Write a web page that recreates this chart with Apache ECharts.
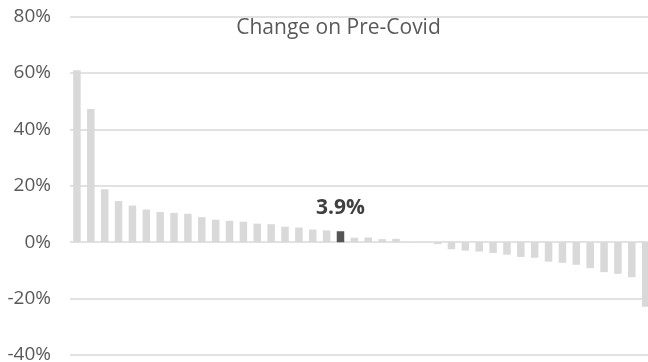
<!DOCTYPE html>
<html>
<head>
<meta charset="utf-8">
<script src="https://cdn.jsdelivr.net/npm/echarts@6/dist/echarts.min.js"></script>
<style>
  html, body { margin: 0; padding: 0; background: #ffffff; }
  #chart { width: 648px; height: 362px; }
</style>
</head>
<body>
<div id="chart"></div>
<script>
// Ranked change versus pre-Covid levels, one bar per item (in %)
const ranks = Array.from({ length: 42 }, (_, i) => String(i + 1));
const changePct = [
  61.0, 47.3, 18.8, 14.6, 13.0, 11.6, 10.7, 10.4, 10.1, 8.9,
  8.0, 7.6, 7.3, 6.6, 6.4, 5.5, 5.2, 4.5, 4.2, 3.9,
  1.6, 1.7, 1.1, 1.2, 0.1, -0.1, -0.7, -2.5, -3.0, -3.3,
  -3.8, -4.4, -5.2, -5.5, -6.9, -7.3, -8.0, -9.2, -10.6, -11.2,
  -12.4, -22.9
];
const highlightIndex = 19;
const yTicks = { min: -40, max: 80, step: 20 };
const titleText = 'Change on Pre-Covid';

const FONT = '"Open Sans", sans-serif';

const chart = echarts.init(document.getElementById('chart'), null, { renderer: 'canvas' });

const barData = changePct.map((v, i) => {
  if (i === highlightIndex) {
    return {
      value: v,
      itemStyle: { color: '#555555' },
      label: {
        show: true,
        position: 'top',
        distance: 13,
        formatter: (p) => p.value.toFixed(1) + '%',
        fontFamily: FONT,
        fontSize: 21,
        fontWeight: 'bold',
        color: '#404040'
      }
    };
  }
  return v;
});

chart.setOption({
  animation: false,
  backgroundColor: '#ffffff',
  title: {
    text: titleText,
    left: 333.5,
    textAlign: 'center',
    top: 13,
    textStyle: { fontFamily: FONT, fontSize: 21, fontWeight: 'normal', color: '#595959' }
  },
  // plot area runs slightly past the right edge of the canvas
  grid: {
    left: 70, width: 582.6, top: 16.7, bottom: 7,
    containLabel: false,
    outerBoundsMode: 'none'
  },
  xAxis: {
    type: 'category',
    data: ranks,
    axisLine: { show: false },
    axisTick: { show: false },
    axisLabel: { show: false },
    splitLine: { show: false }
  },
  yAxis: {
    type: 'value',
    min: yTicks.min,
    max: yTicks.max,
    interval: yTicks.step,
    axisLine: { show: false },
    axisTick: { show: false },
    axisLabel: {
      formatter: (v) => v + '%',
      fontFamily: FONT,
      fontSize: 19,
      color: '#595959',
      margin: 19
    },
    splitLine: { lineStyle: { color: '#d9d9d9', width: 1.5 } }
  },
  series: [{
    type: 'bar',
    data: barData,
    barWidth: 7.5,
    itemStyle: { color: '#d9d9d9' }
  }]
});
</script>
</body>
</html>
